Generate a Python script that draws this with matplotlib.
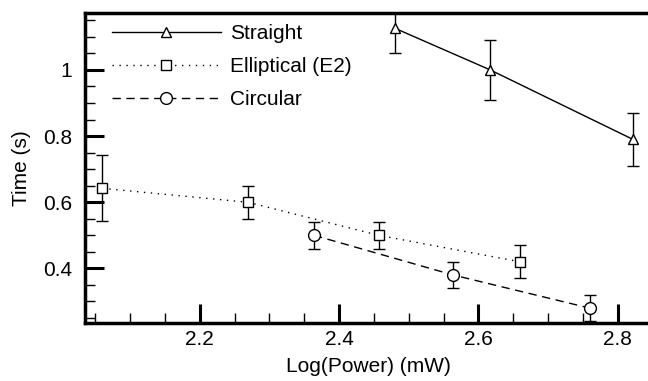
import matplotlib.pyplot as plt
from matplotlib.lines import Line2D
from matplotlib.ticker import MultipleLocator

plt.rcParams['font.family'] = ['Liberation Sans', 'DejaVu Sans']

# data
straight_x = [2.48, 2.617, 2.822]
straight_y = [1.126, 1.0, 0.79]
straight_err = [0.075, 0.09, 0.08]

ellip_x = [2.06, 2.269, 2.457, 2.66]
ellip_y = [0.642, 0.60, 0.50, 0.42]
ellip_err = [0.10, 0.05, 0.04, 0.05]

circ_x = [2.364, 2.564, 2.76]
circ_y = [0.50, 0.38, 0.28]
circ_err = [0.04, 0.04, 0.04]

labels = ['Straight', 'Elliptical (E2)', 'Circular']
markers = ['^', 's', 'o']
styles = ['-', (0, (1, 4)), (0, (6, 4))]
sizes = [7.5, 7.5, 8.5]

fig = plt.figure(figsize=(6.48, 3.81), dpi=100)
ax = fig.add_axes([85 / 648, 58 / 381, 566 / 648, 310 / 381])

common = dict(color='black', mfc='white', mec='black', ecolor='black',
              elinewidth=1.0, capsize=4, capthick=1.0, lw=1.0)
series = [(straight_x, straight_y, straight_err),
          (ellip_x, ellip_y, ellip_err),
          (circ_x, circ_y, circ_err)]
handles = []
for (x, y, e), lab, m, ls, ms in zip(series, labels, markers, styles, sizes):
    ax.errorbar(x, y, yerr=e, marker=m, ls=ls, ms=ms, **common)
    handles.append(Line2D([], [], color='black', lw=1.0, ls=ls, marker=m,
                          ms=ms, mfc='white', mec='black', label=lab))

ax.set_xlim(2.035, 2.848)
ax.set_ylim(0.235, 1.172)
ax.xaxis.set_major_locator(MultipleLocator(0.2))
ax.xaxis.set_minor_locator(MultipleLocator(0.05))
ax.yaxis.set_major_locator(MultipleLocator(0.2))
ax.yaxis.set_minor_locator(MultipleLocator(0.05))
ax.yaxis.set_major_formatter(plt.FuncFormatter(lambda v, p: '%g' % round(v, 2)))
ax.tick_params(which='major', direction='in', length=14, width=2.2,
               labelsize=15, top=False, right=False)
ax.tick_params(axis='x', which='major', pad=5)
ax.tick_params(axis='y', which='major', pad=9)
ax.tick_params(which='minor', direction='in', length=7, width=1.0,
               top=False, right=False)
for s in ax.spines.values():
    s.set_linewidth(2.5)

ax.set_xlabel('Log(Power) (mW)', fontsize=15, labelpad=6)
ax.set_ylabel('Time (s)', fontsize=15, labelpad=9)

ax.legend(handles=handles, loc='upper left', frameon=False, fontsize=15,
          handlelength=5.2, handletextpad=0.45, labelspacing=0.68,
          borderaxespad=0, borderpad=0, bbox_to_anchor=(0.048, 0.965))

fig.savefig('out.png', dpi=100)
